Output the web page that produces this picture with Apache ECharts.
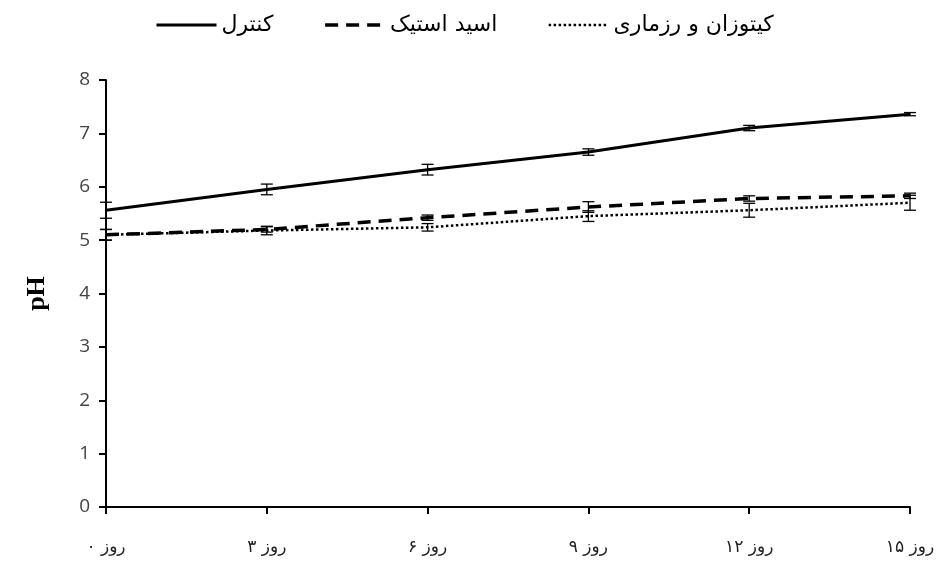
<!DOCTYPE html>
<html>
<head>
<meta charset="utf-8">
<script src="https://cdn.jsdelivr.net/npm/echarts@6/dist/echarts.min.js"></script>
<style>
  html, body { margin: 0; padding: 0; background: #fff; }
  #chart { width: 952px; height: 567px; }
</style>
</head>
<body>
<div id="chart"></div>
<script>
// Storage days
const days = ['روز ۰', 'روز ۳', 'روز ۶', 'روز ۹', 'روز ۱۲', 'روز ۱۵'];

// Series names
const nameControl = 'کنترل';
const nameAcetic = 'اسید استیک';
const nameChitosan = 'کیتوزان و رزماری';

// Mean pH values
const phControl  = [5.56, 5.95, 6.32, 6.65, 7.10, 7.36];
const phAcetic   = [5.10, 5.20, 5.42, 5.62, 5.78, 5.83];
const phChitosan = [5.10, 5.18, 5.24, 5.45, 5.56, 5.70];

// Standard deviations
const sdControl  = [0.15, 0.10, 0.10, 0.06, 0.05, 0.03];
const sdAcetic   = [0.10, 0.05, 0.05, 0.10, 0.05, 0.05];
const sdChitosan = [0.10, 0.08, 0.07, 0.10, 0.13, 0.14];

// Y axis ticks
const yMin = 0, yMax = 8, yStep = 1;

function errorRows(mean, sd) {
  return mean.map((m, i) => [i, m - sd[i], m + sd[i]]);
}

function renderErrorBar(params, api) {
  const x = api.value(0);
  const lo = api.coord([x, api.value(1)]);
  const hi = api.coord([x, api.value(2)]);
  const cap = 6;
  const style = { stroke: '#000', lineWidth: 1.3 };
  return {
    type: 'group',
    children: [
      { type: 'line', shape: { x1: lo[0], y1: lo[1], x2: hi[0], y2: hi[1] }, style },
      { type: 'line', shape: { x1: lo[0] - cap, y1: lo[1], x2: lo[0] + cap, y2: lo[1] }, style },
      { type: 'line', shape: { x1: hi[0] - cap, y1: hi[1], x2: hi[0] + cap, y2: hi[1] }, style }
    ]
  };
}

function errorSeries(mean, sd) {
  return {
    type: 'custom',
    renderItem: renderErrorBar,
    data: errorRows(mean, sd),
    encode: { x: 0, y: [1, 2] },
    z: 5,
    silent: true
  };
}

// Line styles shared by the series and their legend keys
const styleControl  = { color: '#000', width: 3, type: 'solid' };
const styleAcetic   = { color: '#000', width: 3.5, type: [13, 8] };
const styleChitosan = { color: '#000', width: 2.5, type: [2.5, 2.5] };

function lineSeries(name, data, style) {
  return {
    name: name,
    type: 'line',
    data: data,
    symbol: 'none',
    lineStyle: style,
    itemStyle: { color: '#000' },
    z: 3
  };
}

const chart = echarts.init(document.getElementById('chart'), null, { renderer: 'canvas' });

chart.setOption({
  backgroundColor: '#fff',
  animation: false,
  grid: { left: 106, right: 42, top: 80, bottom: 60 },
  legend: {
    left: 150,
    top: 9,
    itemWidth: 60,
    itemHeight: 14,
    itemGap: 50,
    itemStyle: { opacity: 0 },
    textStyle: { fontFamily: 'DejaVu Sans', fontSize: 22, color: '#000' },
    data: [
      { name: nameControl, lineStyle: styleControl },
      { name: nameAcetic, lineStyle: styleAcetic },
      { name: nameChitosan, lineStyle: styleChitosan }
    ]
  },
  xAxis: {
    type: 'category',
    data: days,
    boundaryGap: false,
    axisLine: { lineStyle: { color: '#000', width: 2 } },
    axisTick: { show: true, length: 7, lineStyle: { color: '#000', width: 2 } },
    axisLabel: { fontFamily: 'DejaVu Sans', fontSize: 17, color: '#222', margin: 32 }
  },
  yAxis: {
    type: 'value',
    min: yMin,
    max: yMax,
    interval: yStep,
    name: 'pH',
    nameLocation: 'middle',
    nameGap: 56,
    nameRotate: 90,
    nameTextStyle: { fontFamily: 'Liberation Serif', fontWeight: 'bold', fontSize: 26, color: '#000' },
    splitLine: { show: false },
    axisLine: { show: true, lineStyle: { color: '#000', width: 2 } },
    axisTick: { show: true, length: 7, lineStyle: { color: '#000', width: 2 } },
    axisLabel: { fontFamily: 'Open Sans', fontSize: 19, color: '#444', margin: 16 }
  },
  series: [
    lineSeries(nameControl, phControl, styleControl),
    lineSeries(nameAcetic, phAcetic, styleAcetic),
    lineSeries(nameChitosan, phChitosan, styleChitosan),
    errorSeries(phControl, sdControl),
    errorSeries(phAcetic, sdAcetic),
    errorSeries(phChitosan, sdChitosan)
  ]
});
</script>
</body>
</html>
